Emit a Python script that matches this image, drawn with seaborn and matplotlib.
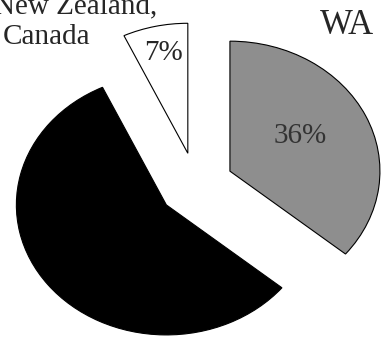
import matplotlib
matplotlib.use("Agg")
import matplotlib.pyplot as plt
import seaborn as sns

# Data
categories = ["WA", "Other", "New Zealand, Canada"]
shares = [36, 57, 7]
show_label = [True, False, True]
colors = ["#8e8e8e", "#000000", "#ffffff"]
title_lines = ["New Zealand,", "Canada"]

sns.set_theme(style="white")
plt.rcParams["font.family"] = ["Liberation Serif", "DejaVu Serif"]

W, H = 381, 339
fig = plt.figure(figsize=(W / 100, H / 100), dpi=100)
ax = fig.add_axes([0, 0, 1, 1])

labels_iter = iter(show_label)


def pct(p):
    return f"{p:.0f}%" if next(labels_iter) else ""


wedges, texts, autotexts = ax.pie(
    shares,
    colors=colors,
    startangle=90,
    counterclock=False,
    explode=[0.25, 0.25, 0.25],
    autopct=pct,
    wedgeprops=dict(edgecolor="black", linewidth=0.8),
    textprops=dict(fontsize=21),
)

# pixel -> data mapping: center (196,185), rx=150, ry=130
cx, cy, rx, ry = 196, 185, 150, 130
ax.set_aspect("auto")
ax.set_xlim(-cx / rx, (W - cx) / rx)
ax.set_ylim((cy - H) / ry, cy / ry)

label_px = [(300, 136), None, (164, 53)]
for t, pos in zip(autotexts, label_px):
    if pos is not None:
        t.set_position(((pos[0] - cx) / rx, (cy - pos[1]) / ry))
        t.set_ha("center")
        t.set_va("center")
autotexts[0].set_color("#333333")

ax.axis("off")

fig.text(347 / W, 1 - 26 / H, categories[0], fontsize=25, ha="center", va="center")
fig.text(-6 / W, 1 - 13 / H, title_lines[0], fontsize=21, ha="left", va="baseline")
fig.text(3 / W, 1 - 44 / H, title_lines[1], fontsize=21, ha="left", va="baseline")

fig.savefig("out.png", dpi=100)
